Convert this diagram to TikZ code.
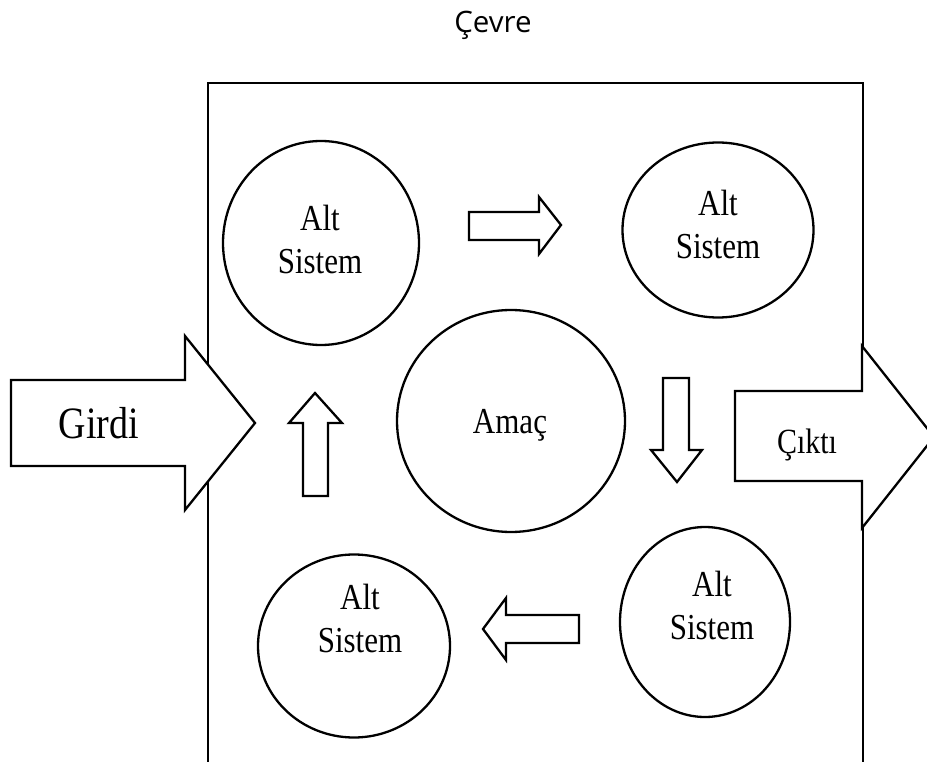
\documentclass[tikz,border=0pt]{standalone}
\usepackage{fontspec}
\usepackage{graphicx}
\setmainfont{Liberation Serif}
\newfontfamily\envfont{Open Sans}
\usetikzlibrary{shapes.geometric}
% serif labels are set slightly taller than wide
\newcommand\tallt[1]{\scalebox{1}[1.18]{#1}}
\tikzset{
  sysbox/.style={line width=2.8pt},
  subsys/.style={ellipse, draw, line width=2.3pt, inner sep=0pt, fill=white},
  flow/.style={draw, line width=2.3pt, fill=white, line join=miter},
  lbl/.style={align=center, font=\fontsize{31}{43}\selectfont, inner sep=0pt},
  biglbl/.style={font=\fontsize{31}{40}\selectfont, inner sep=0pt, anchor=base},
}
\begin{document}
\begin{tikzpicture}[x=1pt,y=-1pt]
  \useasboundingbox (0,0) rectangle (927,762);
  \clip (0,0) rectangle (927,762);

  % environment label and system boundary (open at the bottom)
  \node[font=\envfont\fontsize{29.5}{35}\selectfont, anchor=base, inner sep=0pt] (env) at (493,33) {Çevre};
  \coordinate (bl) at (208,800);
  \coordinate (tl) at (208,83);
  \coordinate (tr) at (863,83);
  \coordinate (br) at (863,800);
  \draw[sysbox] (bl) -- (tl) -- (tr) -- (br);

  % subsystems and goal
  \node[subsys, minimum width=196pt, minimum height=204pt] (s1) at (321,243) {};
  \node[subsys, minimum width=191pt, minimum height=175pt] (s2) at (718,230) {};
  \node[subsys, minimum width=170pt, minimum height=190pt] (s3) at (705,622) {};
  \node[subsys, minimum width=192pt, minimum height=183pt] (s4) at (354,646) {};
  \node[subsys, minimum width=228pt, minimum height=222pt] (goal) at (511,421) {};

  \node[lbl] (s1t) at (320,239) {\tallt{Alt}\\\tallt{Sistem}};
  \node[lbl] (s2t) at (718,224) {\tallt{Alt}\\\tallt{Sistem}};
  \node[lbl] (s3t) at (712,605) {\tallt{Alt}\\\tallt{Sistem}};
  \node[lbl] (s4t) at (360,618) {\tallt{Alt}\\\tallt{Sistem}};
  \node[biglbl] (goalt) at (510,433) {\tallt{Amaç}};

  % block arrows between the subsystems
  \draw[flow] (469,212) -- (539,212) -- (539,197) -- (561,225) -- (539,254) -- (539,240) -- (469,240) -- cycle;
  \draw[flow] (663,378) -- (689,378) -- (689,450) -- (702,450) -- (677,482) -- (651,450) -- (663,450) -- cycle;
  \draw[flow] (579,615) -- (579,643) -- (506,643) -- (506,660) -- (483,629) -- (506,598) -- (506,615) -- cycle;
  \draw[flow] (303,496) -- (303,423) -- (289,423) -- (315,393) -- (342,423) -- (328,423) -- (328,496) -- cycle;

  % input and output
  \draw[flow] (11,380) -- (185,380) -- (185,336) -- (255,423) -- (185,510) -- (185,466) -- (11,466) -- cycle;
  \node[biglbl, font=\fontsize{38}{46}\selectfont] (in) at (99,438) {\tallt{Girdi}};
  \draw[flow] (735,391) -- (862,391) -- (862,346) -- (934,437) -- (862,528) -- (862,481) -- (735,481) -- cycle;
  \node[biglbl, font=\fontsize{30}{38}\selectfont] (out) at (807,453) {\tallt{Çıktı}};
\end{tikzpicture}
\end{document}
